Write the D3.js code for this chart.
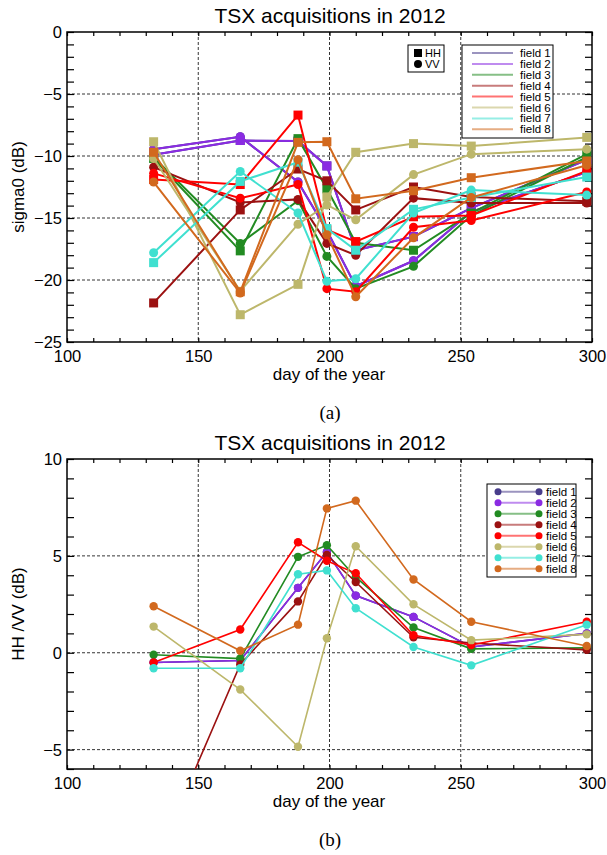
<!DOCTYPE html>
<html>
<head>
<meta charset="utf-8">
<script src="https://cdn.jsdelivr.net/npm/d3@7"></script>
<style>
  body { margin: 0; background: #fff; }
  svg { display: block; font-family: "Liberation Sans", Arial, sans-serif; }
</style>
</head>
<body>
<div id="chart"></div>
<script>
// acquisition dates (day of year)
const days = [133, 166, 188, 199, 210, 232, 254, 298];
const fieldNames = ["field 1", "field 2", "field 3", "field 4", "field 5", "field 6", "field 7", "field 8"];
const fieldColors = ["#483d8b", "#8a2be2", "#228b22", "#9b1111", "#ff0000", "#bdb76b", "#40e0d0", "#d2691e"];

// sigma0 HH (dB), per field
const hhF1 = [-9.9, -8.75, -8.8, -10.8, -17.6, -16.5, -14.2, -10.3];
const hhF2 = [-9.9, -8.75, -8.8, -10.8, -17.6, -16.5, -14.2, -10.3];
const hhF3 = [-10.2, -17.65, -8.6, -12.65, -17.0, -17.6, -14.6, -9.85];
const hhF4 = [-21.85, -14.35, -11.05, -12.0, -14.35, -12.5, -13.3, -13.65];
const hhF5 = [-11.9, -12.3, -6.7, -15.95, -16.9, -14.9, -14.8, -11.2];
const hhF6 = [-8.85, -22.8, -20.35, -13.3, -9.7, -9.0, -9.2, -8.5];
const hhF7 = [-18.6, -12.05, -10.5, -15.85, -17.6, -14.3, -13.35, -11.7];
const hhF8 = [-9.7, -20.95, -8.9, -8.85, -13.45, -12.8, -11.75, -10.4];

// sigma0 VV (dB), per field
const vvF1 = [-9.45, -8.45, -12.1, -16.0, -20.5, -18.45, -14.5, -11.3];
const vvF2 = [-9.45, -8.45, -12.1, -16.0, -20.5, -18.45, -14.5, -11.3];
const vvF3 = [-10.1, -17.05, -13.6, -18.1, -20.7, -18.9, -14.8, -10.1];
const vvF4 = [-10.9, -13.75, -13.5, -17.05, -18.0, -13.4, -13.8, -13.8];
const vvF5 = [-11.4, -13.4, -12.3, -20.7, -20.95, -15.75, -15.2, -12.9];
const vvF6 = [-10.2, -20.9, -15.5, -13.95, -15.15, -11.5, -9.85, -9.45];
const vvF7 = [-17.8, -11.25, -14.6, -20.1, -19.9, -14.6, -12.75, -13.15];
const vvF8 = [-12.1, -21.05, -10.3, -16.35, -21.35, -16.6, -13.35, -10.75];

// HH/VV ratio (dB), per field
const ratioF1 = [-0.5, -0.4, 3.35, 5.2, 2.95, 1.85, 0.3, 1.0];
const ratioF2 = [-0.5, -0.4, 3.35, 5.2, 2.95, 1.85, 0.3, 1.0];
const ratioF3 = [-0.1, -0.3, 4.95, 5.55, 3.9, 1.3, 0.2, 0.25];
const ratioF4 = [-11.0, -0.6, 2.65, 5.05, 3.65, 0.8, 0.5, 0.15];
const ratioF5 = [-0.5, 1.2, 5.7, 4.75, 4.1, 0.9, 0.4, 1.6];
const ratioF6 = [1.35, -1.9, -4.85, 0.75, 5.5, 2.5, 0.65, 0.95];
const ratioF7 = [-0.8, -0.8, 4.05, 4.25, 2.3, 0.3, -0.65, 1.45];
const ratioF8 = [2.4, 0.1, 1.45, 7.45, 7.85, 3.78, 1.6, 0.35];

const hhAll = [hhF1, hhF2, hhF3, hhF4, hhF5, hhF6, hhF7, hhF8];
const vvAll = [vvF1, vvF2, vvF3, vvF4, vvF5, vvF6, vvF7, vvF8];
const ratioAll = [ratioF1, ratioF2, ratioF3, ratioF4, ratioF5, ratioF6, ratioF7, ratioF8];

const W = 607, H = 855;
const svg = d3.select("#chart").append("svg")
    .attr("width", W).attr("height", H);

const x = d3.scaleLinear().domain([100, 300]).range([67, 592]);

function drawPanel(cfg) {
  const y = d3.scaleLinear().domain(cfg.yDomain).range([cfg.y1, cfg.y0]);
  const g = svg.append("g");
  const [x0, x1] = x.range();

  // clip
  g.append("clipPath").attr("id", cfg.id)
    .append("rect").attr("x", x0).attr("y", cfg.y0)
    .attr("width", x1 - x0).attr("height", cfg.y1 - cfg.y0);

  // dashed grid
  const grid = g.append("g").attr("stroke", "#000").attr("stroke-width", 0.8)
    .attr("stroke-dasharray", "3,2");
  [150, 200, 250].forEach(v => grid.append("line")
    .attr("x1", x(v)).attr("x2", x(v)).attr("y1", cfg.y0).attr("y2", cfg.y1));
  cfg.yGrid.forEach(v => grid.append("line")
    .attr("x1", x0).attr("x2", x1).attr("y1", y(v)).attr("y2", y(v)));

  // axes: ticks inward on all four sides
  const xTicks = d3.range(100, 301, 10);
  const yTicks = d3.range(cfg.yDomain[0], cfg.yDomain[1] + 0.1, 1);
  g.append("g").attr("transform", `translate(0,${cfg.y1})`)
    .call(d3.axisBottom(x).tickValues(xTicks).tickSize(-4).tickSizeOuter(0)
      .tickFormat(d => d % 50 === 0 ? d : ""))
    .call(a => a.select(".domain").remove())
    .call(a => a.selectAll("text").attr("dy", null).attr("y", 20).attr("font-size", 16.5).attr("fill", "#000"));
  g.append("g").attr("transform", `translate(0,${cfg.y0})`)
    .call(d3.axisTop(x).tickValues(xTicks).tickSize(-4).tickSizeOuter(0).tickFormat(""))
    .call(a => a.select(".domain").remove());
  g.append("g").attr("transform", `translate(${x0},0)`)
    .call(d3.axisLeft(y).tickValues(yTicks).tickSize(-7).tickSizeOuter(0)
      .tickFormat(d => d % 5 === 0 ? d3.format("")(d) : ""))
    .call(a => a.select(".domain").remove())
    .call(a => a.selectAll("text").attr("x", -5).attr("dy", "0.36em").attr("font-size", 16.5).attr("fill", "#000"));
  g.append("g").attr("transform", `translate(${x1},0)`)
    .call(d3.axisRight(y).tickValues(yTicks).tickSize(-7).tickSizeOuter(0).tickFormat(""))
    .call(a => a.select(".domain").remove());
  g.selectAll(".tick line").attr("stroke", "#000").attr("stroke-width", 1.2);

  // frame
  g.append("rect").attr("x", x0).attr("y", cfg.y0)
    .attr("width", x1 - x0).attr("height", cfg.y1 - cfg.y0)
    .attr("fill", "none").attr("stroke", "#000").attr("stroke-width", 1.5);

  // titles
  g.append("text").attr("x", 330).attr("y", cfg.y0 - 9)
    .attr("text-anchor", "middle").attr("font-size", 21).text("TSX acquisitions in 2012");
  g.append("text").attr("x", 329).attr("y", cfg.y1 + 38)
    .attr("text-anchor", "middle").attr("font-size", 17).text("day of the year");
  g.append("text")
    .attr("transform", `translate(24,${(cfg.y0 + cfg.y1) / 2}) rotate(-90)`)
    .attr("text-anchor", "middle").attr("font-size", 17).text(cfg.yLabel);
  g.append("text").attr("x", 330).attr("y", cfg.y1 + 77)
    .attr("text-anchor", "middle").attr("font-size", 19)
    .attr("font-family", "'Liberation Serif', 'Times New Roman', serif").text(cfg.caption);

  const plot = g.append("g").attr("clip-path", `url(#${cfg.id})`);
  const line = d3.line().x((d, i) => x(days[i])).y(d => y(d));
  return { y, plot, line };
}

// ---------- panel (a) ----------
const pa = drawPanel({ id: "clipA", y0: 32, y1: 342, yDomain: [-25, 0], yGrid: [-5, -10, -15, -20],
  yLabel: "sigma0 (dB)", caption: "(a)" });

fieldNames.forEach((name, k) => {
  const c = fieldColors[k];
  const fg = pa.plot.append("g");
  fg.append("path").datum(hhAll[k]).attr("d", pa.line)
    .attr("fill", "none").attr("stroke", c).attr("stroke-width", 2);
  fg.append("path").datum(vvAll[k]).attr("d", pa.line)
    .attr("fill", "none").attr("stroke", c).attr("stroke-width", 2);
  fg.selectAll("rect.hh").data(hhAll[k]).join("rect").attr("class", "hh")
    .attr("x", (d, i) => x(days[i]) - 4.5).attr("y", d => pa.y(d) - 4.5)
    .attr("width", 9).attr("height", 9).attr("fill", c);
  fg.selectAll("circle.vv").data(vvAll[k]).join("circle").attr("class", "vv")
    .attr("cx", (d, i) => x(days[i])).attr("cy", d => pa.y(d))
    .attr("r", 4.5).attr("fill", c);
});

// HH / VV legend
const lgA = svg.append("g").attr("font-size", 11);
lgA.append("rect").attr("x", 408).attr("y", 45).attr("width", 36).attr("height", 27)
  .attr("fill", "#fff").attr("stroke", "#000");
lgA.append("rect").attr("x", 414).attr("y", 49).attr("width", 8).attr("height", 8).attr("fill", "#000");
lgA.append("circle").attr("cx", 418).attr("cy", 64).attr("r", 4).attr("fill", "#000");
lgA.append("text").attr("x", 425).attr("y", 57).text("HH");
lgA.append("text").attr("x", 425).attr("y", 68).text("VV");

// field legend
const lgF = svg.append("g").attr("font-size", 11.5);
lgF.append("rect").attr("x", 462).attr("y", 45).attr("width", 91).attr("height", 93)
  .attr("fill", "#fff").attr("stroke", "#000");
fieldNames.forEach((name, k) => {
  const yy = 53 + k * 10.9;
  lgF.append("line").attr("x1", 472).attr("x2", 513).attr("y1", yy).attr("y2", yy)
    .attr("stroke", fieldColors[k]).attr("stroke-opacity", 0.55).attr("stroke-width", 2);
  lgF.append("text").attr("x", 520).attr("y", yy + 4).text(name);
});

// ---------- panel (b) ----------
const pb = drawPanel({ id: "clipB", y0: 459, y1: 769, yDomain: [-6, 10], yGrid: [5, 0, -5],
  yLabel: "HH /VV (dB)", caption: "(b)" });

fieldNames.forEach((name, k) => {
  const c = fieldColors[k];
  const fg = pb.plot.append("g");
  fg.append("path").datum(ratioAll[k]).attr("d", pb.line)
    .attr("fill", "none").attr("stroke", c).attr("stroke-width", 1.6);
  fg.selectAll("circle").data(ratioAll[k]).join("circle")
    .attr("cx", (d, i) => x(days[i])).attr("cy", d => pb.y(d))
    .attr("r", 4.2).attr("fill", c);
});

const lgB = svg.append("g").attr("font-size", 11.5);
lgB.append("rect").attr("x", 487).attr("y", 484).attr("width", 89).attr("height", 93)
  .attr("fill", "#fff").attr("stroke", "#000");
fieldNames.forEach((name, k) => {
  const yy = 491.7 + k * 11;
  lgB.append("line").attr("x1", 498).attr("x2", 539).attr("y1", yy).attr("y2", yy)
    .attr("stroke", fieldColors[k]).attr("stroke-opacity", 0.55).attr("stroke-width", 2);
  lgB.append("circle").attr("cx", 498).attr("cy", yy).attr("r", 3.5).attr("fill", fieldColors[k]);
  lgB.append("circle").attr("cx", 539).attr("cy", yy).attr("r", 3.5).attr("fill", fieldColors[k]);
  lgB.append("text").attr("x", 546).attr("y", yy + 4).text(name);
});
</script>
</body>
</html>
